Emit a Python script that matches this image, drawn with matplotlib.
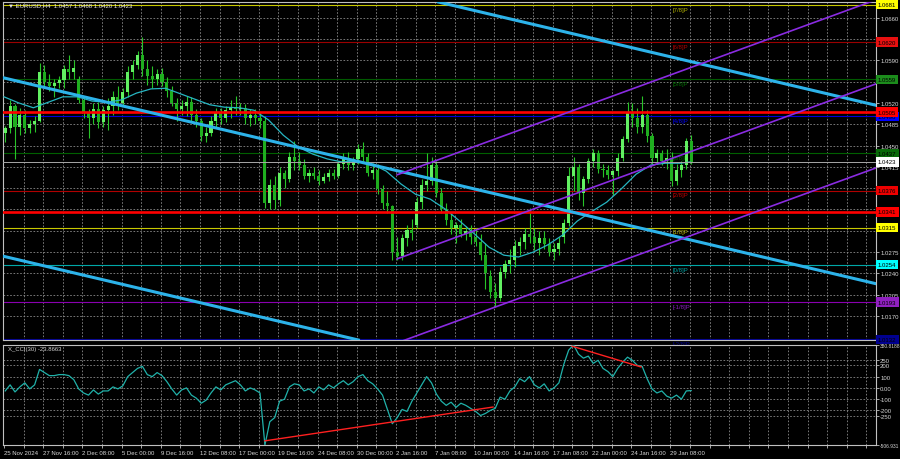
import numpy as np
import matplotlib.pyplot as plt

plt.rcParams['font.family'] = ['Liberation Sans', 'DejaVu Sans']

#----------------------------------------------------
# Data: EURUSD H4, drawn as 8-hour candles (2 H4 bars each)
#----------------------------------------------------
opens = [1.0470, 1.0478, 1.0515, 1.0480, 1.0500, 1.0478, 1.0486, 1.0490, 1.0570, 1.0555,
         1.0548, 1.0552, 1.0558, 1.0575, 1.0570, 1.0560, 1.0525, 1.0505, 1.0495, 1.0510,
         1.0488, 1.0508, 1.0515, 1.0530, 1.0520, 1.0538, 1.0570, 1.0582, 1.0598, 1.0575,
         1.0565, 1.0560, 1.0568, 1.0555, 1.0540, 1.0520, 1.0510, 1.0515, 1.0522, 1.0500,
         1.0490, 1.0465, 1.0470, 1.0490, 1.0505, 1.0495, 1.0508, 1.0512, 1.0510, 1.0512,
         1.0495, 1.0500, 1.0495, 1.0490, 1.0355, 1.0385, 1.0360, 1.0405, 1.0395, 1.0432,
         1.0425, 1.0418, 1.0400, 1.0405, 1.0400, 1.0392, 1.0398, 1.0405, 1.0400, 1.0420,
         1.0430, 1.0418, 1.0428, 1.0445, 1.0432, 1.0405, 1.0410, 1.0378, 1.0355, 1.0350,
         1.0275, 1.0268, 1.0298, 1.0312, 1.0320, 1.0358, 1.0385, 1.0392, 1.0418, 1.0372,
         1.0345, 1.0328, 1.0315, 1.0320, 1.0305, 1.0310, 1.0300, 1.0292, 1.0270, 1.0235,
         1.0210, 1.0200, 1.0242, 1.0255, 1.0262, 1.0285, 1.0292, 1.0305, 1.0300, 1.0290,
         1.0298, 1.0288, 1.0275, 1.0280, 1.0300, 1.0322, 1.0400, 1.0415, 1.0372, 1.0395,
         1.0425, 1.0438, 1.0412, 1.0410, 1.0402, 1.0408, 1.0430, 1.0460, 1.0505, 1.0495,
         1.0480, 1.0500, 1.0465, 1.0430, 1.0438, 1.0425, 1.0430, 1.0392, 1.0410, 1.0418,
         1.0457]
highs = [1.0482, 1.0525, 1.0518, 1.0512, 1.0508, 1.0492, 1.0498, 1.0585, 1.0582, 1.0568,
         1.0560, 1.0565, 1.0582, 1.0598, 1.0590, 1.0565, 1.0530, 1.0510, 1.0520, 1.0522,
         1.0515, 1.0528, 1.0540, 1.0548, 1.0545, 1.0580, 1.0590, 1.0605, 1.0628, 1.0590,
         1.0580, 1.0575, 1.0578, 1.0562, 1.0548, 1.0528, 1.0525, 1.0532, 1.0530, 1.0510,
         1.0495, 1.0480, 1.0498, 1.0512, 1.0512, 1.0515, 1.0525, 1.0532, 1.0520, 1.0518,
         1.0510, 1.0510, 1.0505, 1.0498, 1.0395, 1.0400, 1.0415, 1.0410, 1.0440, 1.0458,
         1.0440, 1.0428, 1.0412, 1.0415, 1.0410, 1.0405, 1.0412, 1.0412, 1.0425, 1.0438,
         1.0440, 1.0432, 1.0452, 1.0455, 1.0438, 1.0422, 1.0420, 1.0385, 1.0375, 1.0352,
         1.0300, 1.0305, 1.0320, 1.0330, 1.0365, 1.0395, 1.0438, 1.0432, 1.0425, 1.0380,
         1.0355, 1.0340, 1.0325, 1.0330, 1.0318, 1.0320, 1.0315, 1.0305, 1.0290, 1.0245,
         1.0225, 1.0250, 1.0262, 1.0280, 1.0295, 1.0300, 1.0315, 1.0348, 1.0315, 1.0310,
         1.0310, 1.0298, 1.0290, 1.0300, 1.0330, 1.0415, 1.0432, 1.0420, 1.0400, 1.0430,
         1.0445, 1.0442, 1.0420, 1.0418, 1.0410, 1.0438, 1.0465, 1.0522, 1.0520, 1.0512,
         1.0532, 1.0508, 1.0470, 1.0445, 1.0442, 1.0445, 1.0440, 1.0420, 1.0425, 1.0462,
         1.0468]
lows = [1.0455, 1.0470, 1.0428, 1.0468, 1.0470, 1.0470, 1.0472, 1.0488, 1.0545, 1.0540,
        1.0530, 1.0545, 1.0545, 1.0560, 1.0560, 1.0520, 1.0495, 1.0462, 1.0485, 1.0478,
        1.0480, 1.0475, 1.0500, 1.0508, 1.0515, 1.0530, 1.0560, 1.0575, 1.0565, 1.0550,
        1.0545, 1.0550, 1.0548, 1.0530, 1.0515, 1.0490, 1.0500, 1.0498, 1.0490, 1.0480,
        1.0458, 1.0455, 1.0465, 1.0480, 1.0485, 1.0488, 1.0495, 1.0500, 1.0500, 1.0485,
        1.0482, 1.0485, 1.0478, 1.0348, 1.0345, 1.0345, 1.0350, 1.0380, 1.0390, 1.0410,
        1.0410, 1.0395, 1.0390, 1.0395, 1.0385, 1.0388, 1.0392, 1.0395, 1.0396, 1.0412,
        1.0410, 1.0410, 1.0420, 1.0425, 1.0400, 1.0395, 1.0370, 1.0345, 1.0340, 1.0262,
        1.0262, 1.0262, 1.0285, 1.0295, 1.0315, 1.0345, 1.0375, 1.0385, 1.0365, 1.0340,
        1.0320, 1.0305, 1.0290, 1.0300, 1.0295, 1.0288, 1.0285, 1.0262, 1.0215, 1.0200,
        1.0185, 1.0195, 1.0232, 1.0240, 1.0250, 1.0270, 1.0280, 1.0290, 1.0278, 1.0270,
        1.0280, 1.0268, 1.0262, 1.0270, 1.0290, 1.0318, 1.0375, 1.0360, 1.0350, 1.0388,
        1.0415, 1.0405, 1.0398, 1.0395, 1.0368, 1.0400, 1.0425, 1.0455, 1.0480, 1.0470,
        1.0470, 1.0455, 1.0420, 1.0420, 1.0418, 1.0412, 1.0384, 1.0385, 1.0398, 1.0412,
        1.0420]
closes = [1.0478, 1.0515, 1.0480, 1.0500, 1.0478, 1.0486, 1.0490, 1.0570, 1.0555, 1.0548,
          1.0552, 1.0558, 1.0575, 1.0570, 1.0578, 1.0525, 1.0505, 1.0495, 1.0510, 1.0488,
          1.0508, 1.0515, 1.0530, 1.0520, 1.0538, 1.0570, 1.0582, 1.0598, 1.0575, 1.0565,
          1.0560, 1.0568, 1.0555, 1.0540, 1.0520, 1.0510, 1.0515, 1.0522, 1.0500, 1.0490,
          1.0465, 1.0470, 1.0490, 1.0505, 1.0495, 1.0508, 1.0512, 1.0510, 1.0512, 1.0495,
          1.0500, 1.0495, 1.0490, 1.0355, 1.0385, 1.0360, 1.0405, 1.0395, 1.0432, 1.0425,
          1.0418, 1.0400, 1.0405, 1.0400, 1.0392, 1.0398, 1.0405, 1.0400, 1.0420, 1.0430,
          1.0418, 1.0428, 1.0445, 1.0432, 1.0405, 1.0410, 1.0378, 1.0355, 1.0350, 1.0275,
          1.0268, 1.0298, 1.0312, 1.0306, 1.0358, 1.0385, 1.0392, 1.0418, 1.0372, 1.0345,
          1.0328, 1.0315, 1.0320, 1.0305, 1.0310, 1.0300, 1.0292, 1.0270, 1.0240, 1.0210,
          1.0200, 1.0242, 1.0255, 1.0262, 1.0285, 1.0292, 1.0305, 1.0300, 1.0290, 1.0298,
          1.0288, 1.0275, 1.0280, 1.0290, 1.0322, 1.0400, 1.0415, 1.0372, 1.0395, 1.0425,
          1.0438, 1.0412, 1.0410, 1.0402, 1.0408, 1.0430, 1.0460, 1.0505, 1.0495, 1.0480,
          1.0500, 1.0465, 1.0430, 1.0438, 1.0425, 1.0430, 1.0392, 1.0410, 1.0418, 1.0457,
          1.0423]

# moving average, one reading per trading day (every 6 H4 bars), last at bar 280
ma_values = [1.0530, 1.0520, 1.0512, 1.0521, 1.0530, 1.0530, 1.0523, 1.0521, 1.0525, 1.0536,
             1.0543, 1.0544, 1.0535, 1.0526, 1.0517, 1.0513, 1.0512, 1.0508, 1.0492, 1.0467,
             1.0448, 1.0436, 1.0428, 1.0423, 1.0425, 1.0420, 1.0408, 1.0387, 1.0370, 1.0362,
             1.0346, 1.0326, 1.0305, 1.0283, 1.0270, 1.0267, 1.0275, 1.0287, 1.0303, 1.0326,
             1.0342, 1.0357, 1.0379, 1.0403, 1.0418, 1.0421, 1.0421, 1.0423]

# CCI(30), one reading per candle
cci = [-27, 27, -36, 9, 45, -9, 27, 164, 136, 109,
       109, 118, 118, 109, 73, -9, -45, -64, -18, -55,
       -27, -27, 9, -9, 18, 100, 136, 173, 191, 118,
       100, 136, 109, 55, -9, -64, -18, 0, -64, -91,
       -136, -109, -45, 9, -18, 27, 45, 64, 27, -27,
       0, -18, -45, -506.9, -300, -264, -118, -100, 9, 36,
       27, -27, -9, -45, 9, -18, 27, 0, 36, 64,
       27, 55, 100, 118, 64, 36, -9, -64, -191, -318,
       -264, -191, -209, -118, -45, 27, 100, 45, -55, -118,
       -155, -127, -173, -136, -155, -182, -209, -245, -227, -200,
       -182, -82, -100, -27, 9, 82, 55, 100, 27, 0,
       36, -27, 0, 45, 209, 336, 380.8, 300, 264, 282,
       218, 245, 173, 145, 100, 173, 227, 273, 245, 200,
       191, 82, -9, -45, -27, -73, -91, -64, -100, -27,
       -23.87]

# Murray math levels
murray_levels = [1.0681, 1.0620, 1.0559, 1.0498, 1.0437, 1.0376, 1.0315, 1.0254, 1.0193, 1.0132]
murray_names = ['[7/8]P', '[6/8]P', '[5/8]P', '[4/8]P', '[3/8]P', '[2/8]P', '[1/8]P', '[0/8]P',
                '[-1/8]P', '[-2/8]P']
murray_colors = ['#c8c800', '#9a0000', '#005a00', '#0000d8', '#006000', '#b00000', '#c8c800',
                 '#00a8a8', '#8a00b0', '#000090']
murray_text_colors = ['#b0b000', '#b00000', '#006a00', '#0000ff', '#007000', '#c00000', '#b0b000',
                      '#00a0a0', '#8a20c0', '#000090']
murray_box_colors = ['#ffff00', '#e81010', '#1c8c1c', '#0000ff', '#0a6a0a', '#ee0000', '#ffff00',
                     '#00ffff', '#9020c0', '#000090']

red_levels = [1.0505, 1.0341]
last_price = 1.0423

# trend channels: (bar, price) anchors of the middle line, plus half width
blue_mid = [(0, 1.0561), (280, 1.02952)]
blue_width = 0.0293
purple_mid = [(160.5, 1.02640), (316.7, 1.04936)]
purple_width = 0.0138

# CCI divergence lines: (bar, cci)
cci_line1 = [(106.5, -470), (199.6, -170)]
cci_line2 = [(231.9, 370), (260.0, 186)]

price_ticks = [1.0170, 1.0205, 1.0240, 1.0275, 1.0310, 1.0345, 1.0380, 1.0415, 1.0450,
               1.0485, 1.0520, 1.0555, 1.0590, 1.0625, 1.0660]
cci_ticks = [380.8188, 250, 200, 100, 0, -100, -200, -250, -506.931]
cci_tick_labels = ['380.8188', '250', '200', '100', '0.00', '-100', '-200', '-250', '-506.931']

time_labels = ['25 Nov 2024', '27 Nov 16:00', '2 Dec 08:00', '5 Dec 00:00', '9 Dec 16:00',
               '12 Dec 08:00', '17 Dec 00:00', '19 Dec 16:00', '24 Dec 08:00', '30 Dec 00:00',
               '2 Jan 16:00', '7 Jan 08:00', '10 Jan 00:00', '14 Jan 16:00', '17 Jan 08:00',
               '22 Jan 00:00', '24 Jan 16:00', '29 Jan 08:00']

#----------------------------------------------------
# Figure layout (MT4 style, black)
#----------------------------------------------------
W, H = 900, 460
fig = plt.figure(figsize=(9, 4.6), dpi=100, facecolor='black')
ax = fig.add_axes([3 / W, (H - 341) / H, 873 / W, 338 / H], facecolor='black')
axc = fig.add_axes([3 / W, (H - 446) / H, 873 / W, 100 / H], facecolor='black')

x_min, x_max = -0.4, -0.4 + 873 / 2.45
ax.set_xlim(x_min, x_max)
axc.set_xlim(x_min, x_max)
ax.set_ylim(1.01307, 1.06857)
axc.set_ylim(-506.931, 380.8188)

grid_kw = dict(color='#8a8a8a', lw=0.6, ls=(0, (2, 2)), zorder=0.5)
fs = 4.3
txt_col = '#d8d8d8'

for a in (ax, axc):
    for s in a.spines.values():
        s.set_color('#c0c0c0')
        s.set_linewidth(0.8)
    a.yaxis.tick_right()
    a.tick_params(axis='y', colors='#c0c0c0', labelcolor=txt_col, labelsize=fs,
                  length=2, width=0.6, pad=1)
    for b in range(8, int(x_max) + 1, 8):
        a.axvline(b, **grid_kw)

# main panel ticks and grid; labels sitting under a level box are hidden, as in MT4
box_levels = murray_levels + red_levels + [last_price]
ax.set_yticks(price_ticks)
ax.set_yticklabels(['' if min(abs(p - b) for b in box_levels) < 0.0006 else f'{p:.4f}'
                    for p in price_ticks])
ax.set_xticks([])
for p in price_ticks:
    ax.axhline(p, **grid_kw)

# CCI panel ticks and grid
axc.set_yticks(cci_ticks)
axc.set_yticklabels(cci_tick_labels)
for lab in (axc.get_yticklabels()[0], axc.get_yticklabels()[-1]):
    lab.set_fontsize(3.5)
for v in cci_ticks[1:-1]:
    axc.axhline(v, **grid_kw)
axc.set_xticks(range(0, 16 * len(time_labels), 16))
axc.set_xticklabels(time_labels, ha='left')
axc.set_xticks(range(0, int(x_max) + 1, 8), minor=True)
axc.tick_params(axis='x', which='both', colors='#c0c0c0', labelcolor=txt_col,
                labelsize=fs, length=2, width=0.6, pad=1.5)

#----------------------------------------------------
# Murray levels, support lines, current price
#----------------------------------------------------
for lvl, name, lc, tc in zip(murray_levels, murray_names, murray_colors, murray_text_colors):
    ax.axhline(lvl, color=lc, lw=0.8, zorder=1)
    ax.annotate(name, xy=(273, lvl), xytext=(0, -1.2), textcoords='offset points',
                ha='left', va='top', fontsize=fs, color=tc, zorder=1, annotation_clip=True)

for lvl in red_levels:
    ax.axhline(lvl, color='#ff0000', lw=1.9, zorder=5)
ax.axhline(last_price, color='#a8a8a8', lw=0.7, zorder=5)

#----------------------------------------------------
# Candles
#----------------------------------------------------
o = np.array(opens)
c = np.array(closes)
xs = np.arange(len(o)) * 2 + 0.5
up = c >= o
ax.vlines(xs, lows, highs, color='#27c427', lw=0.8, zorder=3)
body_lo = np.minimum(o, c)
body_h = np.maximum(np.abs(c - o), 0.00012)
ax.bar(xs[up], body_h[up], bottom=body_lo[up], width=1.3, color='#62f062', lw=0, zorder=3)
ax.bar(xs[~up], body_h[~up], bottom=body_lo[~up], width=1.3, color='#1fae1f', lw=0, zorder=3)

# moving average
ma_x = np.append(np.arange(len(ma_values) - 1) * 6, 280)
ax.plot(ma_x, ma_values, color='#26b6c2', lw=0.9, zorder=4)

#----------------------------------------------------
# Channels
#----------------------------------------------------
(b0, p0), (b1, p1) = blue_mid
for off in (-blue_width, 0, blue_width):
    ax.axline((b0, p0 + off), (b1, p1 + off), color='#2db3ea', lw=2.2, zorder=6)

(b0, p0), (b1, p1) = purple_mid
slope = (p1 - p0) / (b1 - b0)
for off in (-purple_width, 0, purple_width):
    ax.plot([b0, x_max], [p0 + off, p0 + off + slope * (x_max - b0)],
            color='#8a2be2', lw=1.2, zorder=6)

#----------------------------------------------------
# Right-hand price boxes
#----------------------------------------------------
def price_box(val, fc, tc='black'):
    ax.annotate(f'{val:.4f}', xy=(1, val), xycoords=('axes fraction', 'data'),
                xytext=(1.4, 0), textcoords='offset points', ha='left', va='center',
                fontsize=fs, color=tc, zorder=10, annotation_clip=False,
                bbox=dict(boxstyle='square,pad=0.35', fc=fc, ec='none'))

for lvl, bc in zip(murray_levels, murray_box_colors):
    price_box(lvl, bc)
for lvl in red_levels:
    price_box(lvl, '#ff0000')
price_box(last_price, '#ffffff')

#----------------------------------------------------
# CCI panel
#----------------------------------------------------
axc.plot(xs, cci, color='#20b2aa', lw=0.9, zorder=3)
for line in (cci_line1, cci_line2):
    axc.plot([line[0][0], line[1][0]], [line[0][1], line[1][1]], color='#ff2020', lw=1.0, zorder=4)

#----------------------------------------------------
# Captions
#----------------------------------------------------
ax.text(5 / 873, 1 - 3 / 338, '\u25bc EURUSD,H4  1.0457 1.0468 1.0420 1.0423',
        transform=ax.transAxes, ha='left', va='center', fontsize=fs, color='#e8e8e8', zorder=11)
axc.text(5 / 873, 1 - 4 / 100, 'X_CCI(30) -23.8663', transform=axc.transAxes,
         ha='left', va='center', fontsize=fs, color=txt_col, zorder=11)

fig.savefig('out.png', dpi=100, facecolor='black')
